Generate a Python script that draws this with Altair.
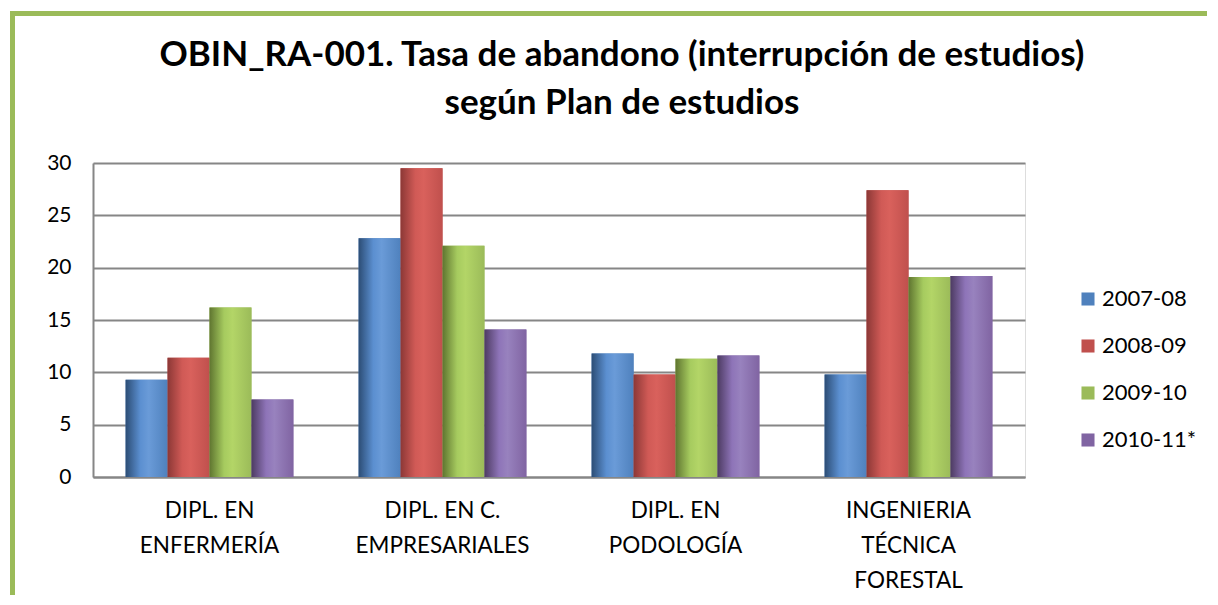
import altair as alt
import pandas as pd

categories = ["DIPL. EN\nENFERMERÍA", "DIPL. EN C.\nEMPRESARIALES", "DIPL. EN\nPODOLOGÍA",
              "INGENIERIA\nTÉCNICA\nFORESTAL"]
series = ["2007-08", "2008-09", "2009-10", "2010-11*"]
v_2007_08 = [9.3, 22.8, 11.8, 9.8]
v_2008_09 = [11.4, 29.5, 9.8, 27.4]
v_2009_10 = [16.2, 22.1, 11.3, 19.1]
v_2010_11 = [7.4, 14.1, 11.6, 19.2]

flat = ["#4F81BD", "#C0504D", "#9BBB59", "#8064A2"]
grad = [
    ["#2C4D75", "#5B8FD0", "#6A9BD8", "#4F81BD"],
    ["#8C3836", "#D05A56", "#D9615C", "#C0504D"],
    ["#5F7530", "#A6CB5F", "#B3D567", "#9BBB59"],
    ["#4D3B62", "#8E74B8", "#9882BE", "#8064A2"],
]

rows = []
for s, vals in zip(series, [v_2007_08, v_2008_09, v_2009_10, v_2010_11]):
    for c, v in zip(categories, vals):
        rows.append({"cat": c, "series": s, "value": v})
df = pd.DataFrame(rows)

FONT = "Lato"

x_enc = alt.X("cat:N", sort=categories, title=None,
              scale=alt.Scale(paddingInner=0.28, paddingOuter=0.14),
              axis=alt.Axis(labelExpr="split(datum.label, '\\n')", labelAngle=0,
                            labelFontSize=22.5, labelLineHeight=35, labelPadding=22,
                            labelColor="#000000", labelFont=FONT, ticks=False,
                            domainColor="#868686", domainWidth=2, grid=False,
                            labelBaseline="top"))
xo_enc = alt.XOffset("series:N", sort=series, scale=alt.Scale(domain=series, paddingInner=0))
y_enc = alt.Y("value:Q", title=None,
              scale=alt.Scale(domain=[0, 30], nice=False),
              axis=alt.Axis(values=[0, 5, 10, 15, 20, 25, 30], ticks=False,
                            labelFontSize=21, labelPadding=22, labelColor="#000000",
                            labelFont=FONT, domainColor="#868686", domainWidth=2,
                            gridColor="#868686", gridWidth=2))

base = alt.Chart(df).mark_bar().encode(
    x=x_enc, xOffset=xo_enc, y=y_enc,
    color=alt.Color("series:N", sort=series,
                    scale=alt.Scale(domain=series, range=flat),
                    legend=alt.Legend(title=None, orient="none", legendX=984, legendY=125,
                                      symbolType="square", symbolSize=170,
                                      symbolStrokeWidth=0, labelFontSize=22,
                                      labelFont=FONT, labelColor="#000000",
                                      rowPadding=25, labelOffset=3)),
)

layers = [base]
for s, g in zip(series, grad):
    gradient = alt.Gradient(
        gradient="linear", x1=0, x2=1, y1=0, y2=0,
        stops=[alt.GradientStop(color=g[0], offset=0),
               alt.GradientStop(color=g[1], offset=0.35),
               alt.GradientStop(color=g[2], offset=0.55),
               alt.GradientStop(color=g[3], offset=1)])
    layers.append(
        alt.Chart(df).transform_filter(alt.datum.series == s)
        .mark_bar(fill=gradient)
        .encode(x=alt.X("cat:N", sort=categories), xOffset=xo_enc, y="value:Q")
    )

frame_df = pd.DataFrame({"k": [0]})
border_color = "#9BBB59"
left_border = alt.Chart(frame_df).mark_rule(color=border_color, strokeWidth=5).encode(
    x=alt.value(-80.5), y=alt.value(-149.5), y2=alt.value(440))
top_border = alt.Chart(frame_df).mark_rule(color=border_color, strokeWidth=5).encode(
    x=alt.value(-83), x2=alt.value(1130), y=alt.value(-149.5))
layers += [left_border, top_border]

chart = alt.layer(*layers).properties(
    width=932, height=314,
    padding={"left": 85, "top": 155, "right": 182, "bottom": 118},
    autosize=alt.AutoSizeParams(type="none"),
    title=alt.TitleParams(
        text=["OBIN_RA-001. Tasa de abandono (interrupción de estudios)",
              "según Plan de estudios"],
        font=FONT, fontSize=35, fontWeight="bold", color="#000000",
        anchor="middle", dx=63, offset=0, dy=110, lineHeight=48),
).configure_view(stroke=None).configure(background="white")

chart.save("out.html", embed_options={"renderer": "svg", "actions": False})
